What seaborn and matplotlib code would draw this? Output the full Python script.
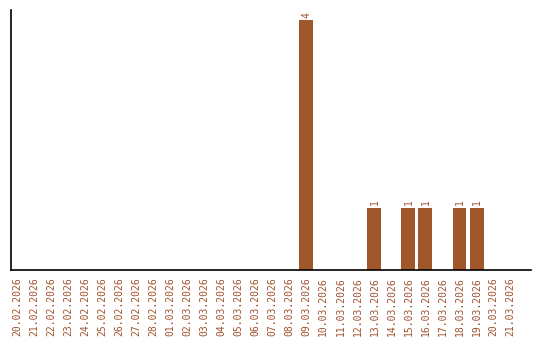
import matplotlib
matplotlib.use("Agg")
import matplotlib.pyplot as plt
import seaborn as sns
import pandas as pd

dates = ["20.02.2026", "21.02.2026", "22.02.2026", "23.02.2026", "24.02.2026",
         "25.02.2026", "26.02.2026", "27.02.2026", "28.02.2026", "01.03.2026",
         "02.03.2026", "03.03.2026", "04.03.2026", "05.03.2026", "06.03.2026",
         "07.03.2026", "08.03.2026", "09.03.2026", "10.03.2026", "11.03.2026",
         "12.03.2026", "13.03.2026", "14.03.2026", "15.03.2026", "16.03.2026",
         "17.03.2026", "18.03.2026", "19.03.2026", "20.03.2026", "21.03.2026"]
counts = [0, 0, 0, 0, 0, 0, 0, 0, 0, 0,
          0, 0, 0, 0, 0, 0, 0, 4, 0, 0,
          0, 1, 0, 1, 1, 0, 1, 1, 0, 0]

BAR = "#A0572A"
TXT = "#A0522D"

sns.set_theme(style="white")
plt.rcParams["font.family"] = ["DejaVu Sans Mono", "DejaVu Sans"]

df = pd.DataFrame({"date": dates, "count": counts})

fig = plt.figure(figsize=(5.4, 3.4), dpi=100)
ax = fig.add_axes([10.5 / 540, 1 - 270 / 340, (531 - 10.5) / 540, 260 / 340])
sns.barplot(data=df, x="date", y="count", color=BAR, saturation=1, width=0.82,
            linewidth=0, edgecolor=BAR, ax=ax)

for i, v in enumerate(counts):
    if v > 0:
        ax.text(i, v + 0.04, str(v), rotation=90, ha="center", va="bottom",
                fontsize=7, color=TXT)

ax.set_xlim(-0.38, 30.2)
ax.set_ylim(0, 4.16)
ax.set_xlabel("")
ax.set_ylabel("")
ax.set_yticks([])
ax.set_xticks(range(len(dates)))
ax.set_xticklabels(dates, rotation=90, fontsize=7, color=TXT)
ax.tick_params(axis="x", length=0, pad=5)
for s in ["top", "right"]:
    ax.spines[s].set_visible(False)
for s in ["left", "bottom"]:
    ax.spines[s].set_color("black")
    ax.spines[s].set_linewidth(1.2)

fig.savefig("out.png", dpi=100)
